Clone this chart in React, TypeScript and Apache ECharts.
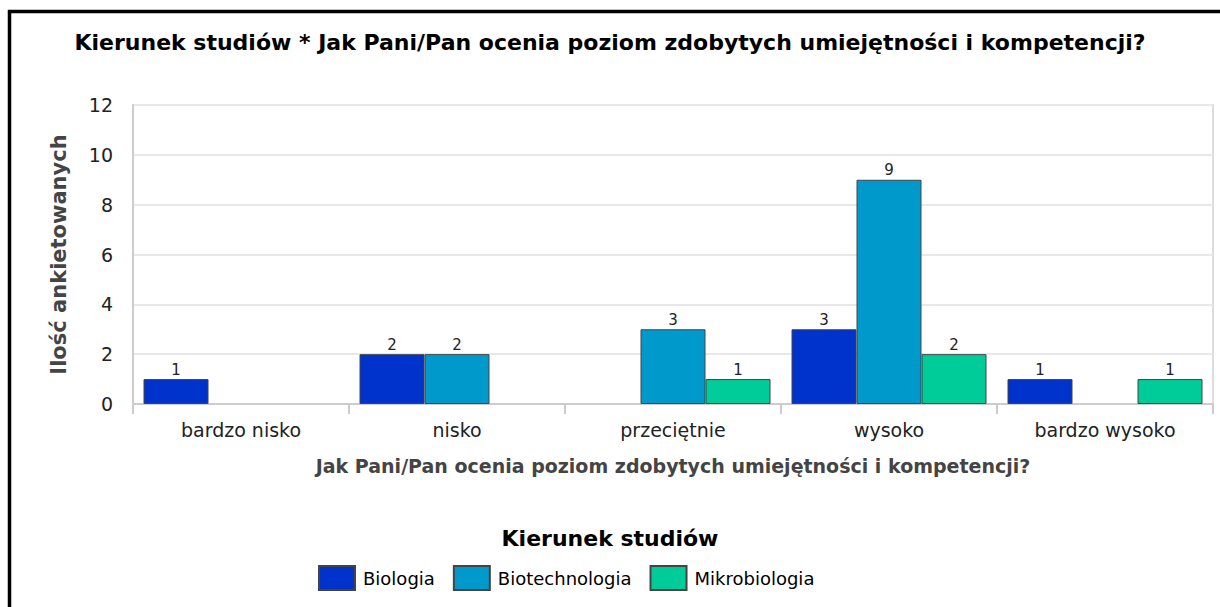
import React, { useEffect, useRef } from "react";
import * as echarts from "echarts";

const categories = ["bardzo nisko", "nisko", "przeciętnie", "wysoko", "bardzo wysoko"];
const seriesNames = ["Biologia", "Biotechnologia", "Mikrobiologia"];
const biologia = [1, 2, null, 3, 1];
const biotechnologia = [null, 2, 3, 9, null];
const mikrobiologia = [null, null, 1, 2, 1];
const colors = ["#0033cc", "#0099cc", "#00cc99"];
const yTicks = { min: 0, max: 12, interval: 2 };

const title = "Kierunek studiów * Jak Pani/Pan ocenia poziom zdobytych umiejętności i kompetencji?";
const xName = "Jak Pani/Pan ocenia poziom zdobytych umiejętności i kompetencji?";
const yName = "Ilość ankietowanych";
const legendTitle = "Kierunek studiów";

export default function App() {
  const ref = useRef<HTMLDivElement>(null);
  useEffect(() => {
    const chart = echarts.init(ref.current!, undefined, { renderer: "svg" });
    const data = [biologia, biotechnologia, mikrobiologia];
    chart.setOption({
      animation: false,
      backgroundColor: "#fff",
      title: [
        {
          text: title,
          left: "center",
          top: 26,
          textStyle: { fontFamily: "DejaVu Sans", fontWeight: "bold", fontSize: 22, color: "#000" },
        },
        {
          text: legendTitle,
          left: "center",
          top: 522,
          textStyle: { fontFamily: "DejaVu Sans", fontWeight: "bold", fontSize: 22, color: "#000" },
        },
      ],
      graphic: [
        {
          type: "rect",
          shape: { x: 9.5, y: 11.5, width: 1230, height: 620 },
          style: { fill: "none", stroke: "#000", lineWidth: 3.5 },
          silent: true,
        },
      ],
      grid: {
        left: 133,
        right: 7,
        top: 105,
        bottom: 203,
        show: true,
        borderColor: "#dddddd",
        borderWidth: 2,
        backgroundColor: "transparent",
      },
      legend: {
        data: seriesNames,
        bottom: 11,
        left: 313,
        itemWidth: 36,
        itemHeight: 24,
        itemGap: 18,
        icon: "rect",
        textStyle: { fontFamily: "DejaVu Sans", fontSize: 18, color: "#000", padding: [0, 0, 0, 3] },
      },
      xAxis: {
        type: "category",
        data: categories,
        name: xName,
        nameLocation: "middle",
        nameGap: 52,
        nameTextStyle: { fontFamily: "DejaVu Sans", fontWeight: "bold", fontSize: 19, color: "#444" },
        axisLine: { show: true, lineStyle: { color: "#cccccc", width: 2 } },
        axisTick: { show: true, length: 10, lineStyle: { color: "#cccccc", width: 2 } },
        axisLabel: { fontFamily: "DejaVu Sans", fontSize: 19, color: "#222", margin: 16 },
      },
      yAxis: {
        type: "value",
        min: yTicks.min,
        max: yTicks.max,
        interval: yTicks.interval,
        name: yName,
        nameLocation: "middle",
        nameGap: 64,
        nameTextStyle: { fontFamily: "DejaVu Sans", fontWeight: "bold", fontSize: 21, color: "#444" },
        axisLine: { show: true, lineStyle: { color: "#cccccc", width: 2 } },
        axisTick: { show: false },
        splitLine: { lineStyle: { color: "#e8e8e8", width: 2 } },
        axisLabel: { fontFamily: "DejaVu Sans", fontSize: 19, color: "#222", margin: 20 },
      },
      series: seriesNames.map((name, i) => ({
        name,
        type: "bar",
        data: data[i],
        barWidth: 65,
        barGap: "0%",
        itemStyle: { color: colors[i], borderColor: "#444", borderWidth: 1 },
        label: {
          show: true,
          position: "top",
          distance: 2,
          fontFamily: "DejaVu Sans",
          fontSize: 15,
          color: "#222",
        },
      })),
    });
    return () => chart.dispose();
  }, []);
  return (
    <div
      ref={ref}
      style={{ position: "absolute", left: 0, top: 0, width: 1220, height: 607 }}
    />
  );
}
